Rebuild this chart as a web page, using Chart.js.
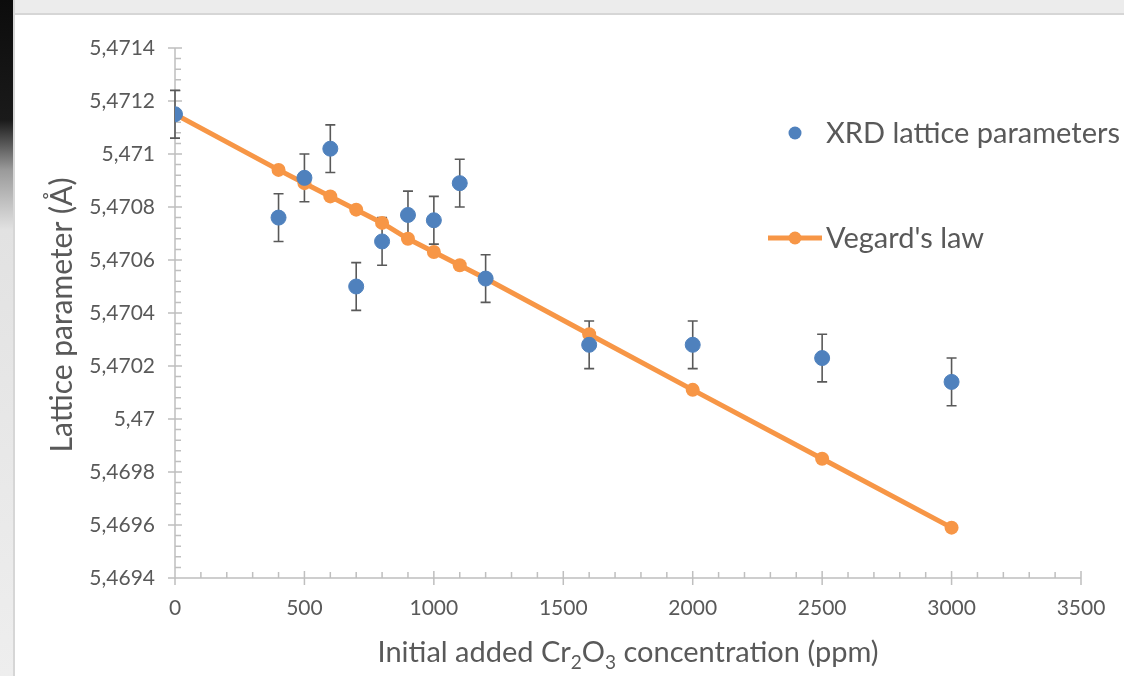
<!DOCTYPE html>
<html>
<head>
<meta charset="utf-8">
<script src="https://cdn.jsdelivr.net/npm/chart.js@4.4.1/dist/chart.umd.min.js"></script>
<style>
  html, body { margin: 0; padding: 0; background: #fff; }
  #wrap { position: relative; width: 1124px; height: 676px; overflow: hidden; }
  #topStrip { position: absolute; left: 0; top: 0; width: 1124px; height: 13px; background: #ececec; border-bottom: 2px solid #d6d6d6; }
  #leftStrip { position: absolute; left: 0; top: 0; width: 13px; height: 676px;
    background: linear-gradient(to bottom, #0c0c0c 0px, #1a1a1a 120px, #9a9a9a 170px, #e2e2e2 230px, #eeeeee 676px);
    border-right: 2px solid #d6d6d6; }
</style>
</head>
<body>
<div id="wrap">
  <canvas id="chart" width="1124" height="676"></canvas>
  <div id="topStrip"></div>
  <div id="leftStrip"></div>
</div>
<script>
// Initial added Cr2O3 concentration (ppm)
const concentration = [0, 400, 500, 600, 700, 800, 900, 1000, 1100, 1200, 1600, 2000, 2500, 3000];
// XRD lattice parameters (Å) and their error bars
const xrdLattice = [5.47115, 5.47076, 5.47091, 5.47102, 5.47050, 5.47067, 5.47077, 5.47075, 5.47089, 5.47053, 5.47028, 5.47028, 5.47023, 5.47014];
const xrdError = [0.00009, 0.00009, 0.00009, 0.00009, 0.00009, 0.00009, 0.00009, 0.00009, 0.00009, 0.00009, 0.00009, 0.00009, 0.00009, 0.00009];
// Vegard's law prediction
const vegardLattice = [5.47115, 5.47094, 5.47089, 5.47084, 5.47079, 5.47074, 5.47068, 5.47063, 5.47058, 5.47053, 5.47032, 5.47011, 5.46985, 5.46959];

const xTickValues = [0, 500, 1000, 1500, 2000, 2500, 3000, 3500];
const yTickValues = [5.4694, 5.4696, 5.4698, 5.47, 5.4702, 5.4704, 5.4706, 5.4708, 5.471, 5.4712, 5.4714];

const FONT = 'Lato, "Open Sans", sans-serif';
const TEXT = '#595959';
const AXIS = '#bfbfbf';
const BLUE = '#4f81bd';
const ORANGE = '#f79646';

function toPoints(ys) {
  return concentration.map((x, i) => ({ x: x, y: ys[i] }));
}

function fmtComma(v) {
  return String(parseFloat(v.toFixed(4))).replace('.', ',');
}

// axis lines, major and minor ticks, error bars
const axesPlugin = {
  id: 'axes',
  beforeDatasetsDraw(chart) {
    const { ctx, chartArea: a, scales: { x, y } } = chart;
    ctx.save();
    ctx.strokeStyle = AXIS;
    ctx.lineWidth = 1.5;
    ctx.beginPath();
    ctx.moveTo(a.left, a.top);
    ctx.lineTo(a.left, a.bottom);
    ctx.moveTo(a.left, a.bottom);
    ctx.lineTo(a.right, a.bottom);
    for (let i = 0; i < yTickValues.length; i++) {
      const py = y.getPixelForValue(yTickValues[i]);
      ctx.moveTo(a.left - 7, py);
      ctx.lineTo(a.left + 7, py);
      if (i < yTickValues.length - 1) {
        const step = (yTickValues[i + 1] - yTickValues[i]) / 5;
        for (let k = 1; k < 5; k++) {
          const my = y.getPixelForValue(yTickValues[i] + step * k);
          ctx.moveTo(a.left, my);
          ctx.lineTo(a.left + 6, my);
        }
      }
    }
    for (let i = 0; i < xTickValues.length; i++) {
      const px = x.getPixelForValue(xTickValues[i]);
      ctx.moveTo(px, a.bottom - 7);
      ctx.lineTo(px, a.bottom + 7);
      if (i < xTickValues.length - 1) {
        const step = (xTickValues[i + 1] - xTickValues[i]) / 5;
        for (let k = 1; k < 5; k++) {
          const mx = x.getPixelForValue(xTickValues[i] + step * k);
          ctx.moveTo(mx, a.bottom - 6);
          ctx.lineTo(mx, a.bottom);
        }
      }
    }
    ctx.stroke();

    ctx.strokeStyle = '#595959';
    ctx.lineWidth = 1.6;
    ctx.beginPath();
    concentration.forEach((c, i) => {
      const px = x.getPixelForValue(c);
      const top = y.getPixelForValue(xrdLattice[i] + xrdError[i]);
      const bot = y.getPixelForValue(xrdLattice[i] - xrdError[i]);
      ctx.moveTo(px, top);
      ctx.lineTo(px, bot);
      ctx.moveTo(px - 5, top);
      ctx.lineTo(px + 5, top);
      ctx.moveTo(px - 5, bot);
      ctx.lineTo(px + 5, bot);
    });
    ctx.stroke();
    ctx.restore();
  }
};

// axis titles and legend
const labelsPlugin = {
  id: 'labels',
  afterDraw(chart) {
    const { ctx, chartArea: a } = chart;
    ctx.save();
    ctx.fillStyle = TEXT;

    const big = '29px ' + FONT;
    const small = '19px ' + FONT;
    const parts = [
      ['Initial added Cr', big, 0],
      ['2', small, 7],
      ['O', big, 0],
      ['3', small, 7],
      [' concentration (ppm)', big, 0]
    ];
    let total = 0;
    parts.forEach(p => { ctx.font = p[1]; total += ctx.measureText(p[0]).width; });
    let cx = (a.left + a.right) / 2 - total / 2;
    ctx.textBaseline = 'alphabetic';
    ctx.textAlign = 'left';
    parts.forEach(p => {
      ctx.font = p[1];
      ctx.fillText(p[0], cx, 662 + p[2]);
      cx += ctx.measureText(p[0]).width;
    });

    ctx.save();
    ctx.translate(62, 315);
    ctx.rotate(-Math.PI / 2);
    ctx.font = '30px ' + FONT;
    ctx.textAlign = 'center';
    ctx.textBaseline = 'middle';
    ctx.fillText('Lattice parameter (Å)', 0, 0);
    ctx.restore();

    ctx.font = '29px ' + FONT;
    ctx.textAlign = 'left';
    ctx.textBaseline = 'middle';
    ctx.fillStyle = BLUE;
    ctx.beginPath();
    ctx.arc(795, 133, 6.5, 0, Math.PI * 2);
    ctx.fill();
    ctx.fillStyle = TEXT;
    ctx.fillText('XRD lattice parameters', 826, 134);

    ctx.strokeStyle = ORANGE;
    ctx.lineWidth = 5;
    ctx.beginPath();
    ctx.moveTo(768, 238);
    ctx.lineTo(822, 238);
    ctx.stroke();
    ctx.fillStyle = ORANGE;
    ctx.beginPath();
    ctx.arc(795, 238, 6.5, 0, Math.PI * 2);
    ctx.fill();
    ctx.fillStyle = TEXT;
    ctx.fillText("Vegard's law", 826, 239);
    ctx.restore();
  }
};

new Chart(document.getElementById('chart'), {
  type: 'scatter',
  data: {
    datasets: [
      {
        label: 'XRD lattice parameters',
        data: toPoints(xrdLattice),
        backgroundColor: BLUE,
        borderColor: BLUE,
        pointRadius: 7.5,
        pointHoverRadius: 7.5,
        showLine: false
      },
      {
        label: "Vegard's law",
        data: toPoints(vegardLattice),
        backgroundColor: ORANGE,
        borderColor: ORANGE,
        borderWidth: 5,
        pointRadius: 7,
        pointHoverRadius: 7,
        pointBorderWidth: 0,
        showLine: true,
        tension: 0
      }
    ]
  },
  options: {
    responsive: false,
    animation: false,
    devicePixelRatio: 1,
    layout: { padding: { left: 0, right: 43, top: 48, bottom: 0 } },
    plugins: {
      legend: { display: false },
      tooltip: { enabled: false }
    },
    scales: {
      x: {
        type: 'linear',
        min: 0,
        max: 3500,
        afterBuildTicks: s => { s.ticks = xTickValues.map(v => ({ value: v })); },
        afterFit: s => { s.height = 98; },
        grid: { display: true, drawOnChartArea: false, drawTicks: false, color: 'rgba(0,0,0,0)' },
        border: { display: false },
        ticks: {
          color: TEXT,
          font: { family: FONT, size: 21 },
          padding: 18,
          maxRotation: 0,
          callback: v => String(v)
        }
      },
      y: {
        type: 'linear',
        min: 5.4694,
        max: 5.4714,
        afterBuildTicks: s => { s.ticks = yTickValues.map(v => ({ value: v })); },
        afterFit: s => { s.width = 175; },
        grid: { display: true, drawOnChartArea: false, drawTicks: false, color: 'rgba(0,0,0,0)' },
        border: { display: false },
        ticks: {
          color: TEXT,
          font: { family: FONT, size: 21 },
          padding: 20,
          callback: v => fmtComma(v)
        }
      }
    }
  },
  plugins: [axesPlugin, labelsPlugin]
});
</script>
</body>
</html>
